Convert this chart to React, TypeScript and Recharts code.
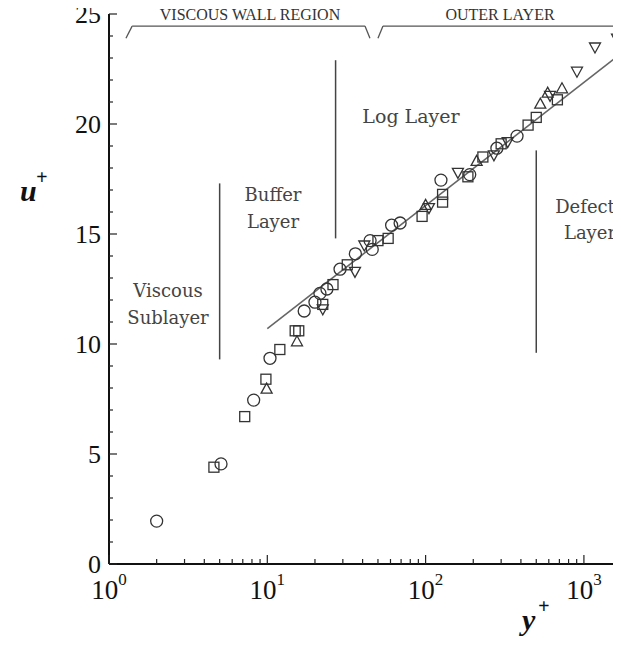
import React from 'react';
import { ScatterChart, Scatter, XAxis, YAxis, ReferenceLine } from 'recharts';

// ---- data (y+, u+) ----
const circlePts: [number, number][] = [
  [2, 1.95], [5.1, 4.55], [8.2, 7.45], [10.4, 9.35], [17.1, 11.5], [20, 11.9],
  [21.5, 12.3], [23.8, 12.5], [28.8, 13.4], [36, 14.1], [44.6, 14.7], [46, 14.3],
  [61, 15.4], [69, 15.5], [125, 17.45], [190, 17.7], [282, 18.9], [378, 19.45],
];
const squarePts: [number, number][] = [
  [4.6, 4.4], [7.2, 6.7], [9.8, 8.4], [12, 9.75], [15, 10.6], [15.8, 10.6],
  [22.4, 11.8], [26, 12.7], [32, 13.6], [50, 14.7], [58, 14.8], [95, 15.8],
  [128, 16.45], [128, 16.8], [185, 17.6], [230, 18.5], [300, 19.1], [444, 19.95],
  [500, 20.3], [680, 21.1],
];
const triUpPts: [number, number][] = [
  [9.9, 7.95], [15.4, 10.1], [100, 16.3], [210, 18.3], [530, 20.9], [590, 21.4], [727, 21.6],
];
const triDownPts: [number, number][] = [
  [22.4, 11.6], [35.8, 13.3], [41, 14.5], [105, 16.2], [160, 17.8], [270, 18.6],
  [330, 19.2], [611, 21.3], [904, 22.4], [1175, 23.5], [1620, 23.9],
];
const logLawPts: [number, number][] = [[10, 10.7], [1715, 23.2]];

// region boundaries: [y+, u+ bottom, u+ top]
const boundaries: [number, number, number][] = [
  [5, 9.3, 17.3],
  [27, 14.8, 22.9],
  [500, 9.6, 18.8],
];
// top braces: [foot start, corner start, corner end, foot end|null]
const braces: [number, number, number, number | null][] = [
  [1.28, 1.4, 41.4, 44.5],
  [50, 53.8, 1710, null],
];
const braceLevel = 24.45;
const braceFoot = 23.9;

const xDomain: [number, number] = [1, 1715];
const yDomain: [number, number] = [0, 25];
const xDecades = [1, 10, 100, 1000];
const xMinorMult = [2, 3, 4, 5, 6, 7, 8, 9];
const yMajor = [0, 5, 10, 15, 20, 25];

const xTicks: number[] = [];
xDecades.forEach((d) => {
  xTicks.push(d);
  xMinorMult.forEach((m) => {
    if (m * d <= xDomain[1]) xTicks.push(m * d);
  });
});
const yTicks: number[] = [];
for (let v = yDomain[0]; v <= yDomain[1]; v++) yTicks.push(v);

const toPts = (arr: [number, number][]) => arr.map(([a, b]) => ({ yPlus: a, uPlus: b }));

const STROKE = '#333';
const SW = 1.3;
const SERIF = '"Liberation Serif", "Times New Roman", serif';
const LABEL_FONT = '"DejaVu Serif", serif';

const CircleShape = (p: any) => (
  <circle cx={p.cx} cy={p.cy} r={6} fill="none" stroke={STROKE} strokeWidth={SW} />
);
const SquareShape = (p: any) => (
  <rect x={p.cx - 5} y={p.cy - 5} width={10} height={10} fill="none" stroke={STROKE} strokeWidth={SW} />
);
const TriUpShape = (p: any) => (
  <polygon
    points={`${p.cx},${p.cy - 6} ${p.cx - 5.5},${p.cy + 4} ${p.cx + 5.5},${p.cy + 4}`}
    fill="none" stroke={STROKE} strokeWidth={SW}
  />
);
const TriDownShape = (p: any) => (
  <polygon
    points={`${p.cx},${p.cy + 6} ${p.cx - 5.5},${p.cy - 4} ${p.cx + 5.5},${p.cy - 4}`}
    fill="none" stroke={STROKE} strokeWidth={SW}
  />
);
const NoShape = () => <g />;

const XTick = (props: any) => {
  const { x, y, payload } = props;
  const v = payload.value as number;
  const lg = Math.log10(v);
  const exp = Math.round(lg);
  const major = Math.abs(lg - exp) < 1e-9;
  return (
    <g>
      <line x1={x} x2={x} y1={y} y2={y - (major ? 9 : 5)} stroke="#222" strokeWidth={1.2} />
      {major && (
        <text x={x} y={y + 35} textAnchor="middle" fontFamily={SERIF} fontSize={27} fill="#111">
          10<tspan dy={-14} fontSize={17}>{exp}</tspan>
        </text>
      )}
    </g>
  );
};

const YTick = (props: any) => {
  const { x, y, payload } = props;
  const v = payload.value as number;
  const major = yMajor.includes(v);
  return (
    <g>
      <line x1={x} x2={x + (major ? 8 : 4)} y1={y} y2={y} stroke="#222" strokeWidth={1.2} />
      {major && (
        <text x={x - 8} y={y} dy="0.35em" textAnchor="end" fontFamily={SERIF} fontSize={26} fill="#111">
          {v}
        </text>
      )}
    </g>
  );
};

const W = 613;
const H = 640;

export default function App() {
  const lineStyle = { stroke: '#555', strokeWidth: 1.3 };
  return (
    <div style={{ position: 'relative', width: W, height: H, marginTop: -8 }}>
      <style>{'html, body { overflow: hidden; }'}</style>
      <ScatterChart width={W} height={H} margin={{ top: 14, right: 0, bottom: 0, left: 0 }}>
        <XAxis
          dataKey="yPlus"
          type="number"
          scale="log"
          domain={xDomain}
          allowDataOverflow
          ticks={xTicks}
          interval={0}
          height={76}
          tickSize={0}
          tickMargin={0}
          tickLine={false}
          axisLine={{ stroke: '#111', strokeWidth: 2 }}
          tick={(p: any) => <XTick {...p} />}
        />
        <YAxis
          dataKey="uPlus"
          type="number"
          domain={yDomain}
          allowDataOverflow
          ticks={yTicks}
          interval={0}
          width={101}
          tickSize={0}
          tickMargin={0}
          tickLine={false}
          axisLine={{ stroke: '#111', strokeWidth: 2 }}
          tick={(p: any) => <YTick {...p} />}
        />
        {boundaries.map(([x, y1, y2], i) => (
          <ReferenceLine key={'b' + i} segment={[{ x, y: y1 }, { x, y: y2 }]} stroke="#444" strokeWidth={1.5} />
        ))}
        {braces.map(([f1, c1, c2, f2], i) => (
          <React.Fragment key={'br' + i}>
            <ReferenceLine segment={[{ x: f1, y: braceFoot }, { x: c1, y: braceLevel }]} {...lineStyle} />
            <ReferenceLine segment={[{ x: c1, y: braceLevel }, { x: c2, y: braceLevel }]} {...lineStyle} />
            {f2 !== null && (
              <ReferenceLine segment={[{ x: c2, y: braceLevel }, { x: f2, y: braceFoot }]} {...lineStyle} />
            )}
          </React.Fragment>
        ))}
        <Scatter
          data={toPts(logLawPts)}
          line={{ stroke: '#666', strokeWidth: 1.6 }}
          shape={NoShape}
          isAnimationActive={false}
        />
        <Scatter data={toPts(circlePts)} shape={CircleShape} isAnimationActive={false} />
        <Scatter data={toPts(squarePts)} shape={SquareShape} isAnimationActive={false} />
        <Scatter data={toPts(triUpPts)} shape={TriUpShape} isAnimationActive={false} />
        <Scatter data={toPts(triDownPts)} shape={TriDownShape} isAnimationActive={false} />
      </ScatterChart>
      <svg
        width={W}
        height={H}
        style={{ position: 'absolute', left: 0, top: 0, pointerEvents: 'none', overflow: 'visible' }}
      >
        <g fontFamily={SERIF} fontSize={16} fill="#333" textAnchor="middle">
          <text x={242} y={20}>VISCOUS WALL REGION</text>
          <text x={492} y={20}>OUTER LAYER</text>
        </g>
        <g fontFamily={LABEL_FONT} fontSize={18} fill="#444" textAnchor="middle">
          <text x={403} y={123} fontSize={19}>Log Layer</text>
          <text x={265} y={201}>Buffer</text>
          <text x={265} y={228}>Layer</text>
          <text x={160} y={297}>Viscous</text>
          <text x={160} y={324}>Sublayer</text>
          <text x={577} y={213}>Defect</text>
          <text x={582} y={239}>Layer</text>
        </g>
        <g fontFamily={SERIF} fontStyle="italic" fontWeight="bold" fill="#111">
          <text x={12} y={201} fontSize={30}>u</text>
          <text x={28} y={184} fontSize={20}>+</text>
          <text x={514} y={630} fontSize={30}>y</text>
          <text x={530} y={613} fontSize={20}>+</text>
        </g>
      </svg>
    </div>
  );
}
